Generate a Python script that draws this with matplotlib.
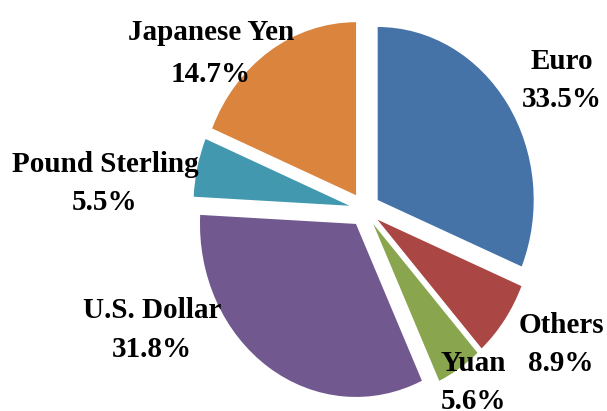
import matplotlib
matplotlib.use("Agg")
import matplotlib.pyplot as plt

# Data
labels = ["Euro", "Others", "Yuan", "U.S. Dollar", "Pound Sterling", "Japanese Yen"]
pct_labels = ["33.5%", "8.9%", "5.6%", "31.8%", "5.5%", "14.7%"]
# slice sizes as drawn in the picture (degrees of arc read from the wedges)
slice_sizes = [112.6, 25.5, 16.9, 118.0, 19.7, 67.3]
colors = ["#4572A7", "#AA4643", "#89A54E", "#71588F", "#4198AF", "#DB843D"]

W, H = 607, 411
fig = plt.figure(figsize=(W / 100, H / 100), dpi=100)
ax = fig.add_axes([0, 0, 1, 1])

ax.pie(slice_sizes, colors=colors, startangle=90, counterclock=False,
       explode=[0.1] * len(slice_sizes), wedgeprops=dict(linewidth=0))

# elliptical pie: x unit ~156 px, y unit ~173 px, centre at (364.7, 209.6)
cx, cy, sx, sy = 364.7, 209.6, 156, 173
ax.set_aspect("auto")
ax.set_xlim(-cx / sx, (W - cx) / sx)
ax.set_ylim(-(H - cy) / sy, cy / sy)
ax.axis("off")

# label placement (pixel centres / baselines)
pos = {
    "Euro": (562, 69, 107),
    "Others": (561, 333, 371),
    "Yuan": (473, 371, 409),
    "U.S. Dollar": (152, 318, 357),
    "Pound Sterling": (105, 172, 210),
    "Japanese Yen": (211, 40, 82),
}
font = dict(family="Liberation Serif", weight="bold", size=21, color="black")
for lab, pct in zip(labels, pct_labels):
    x, y1, y2 = pos[lab]
    fig.text(x / W, 1 - y1 / H, lab, ha="center", va="baseline", **font)
    fig.text(x / W, 1 - y2 / H, pct, ha="center", va="baseline", **font)

fig.savefig("out.png", dpi=100)
